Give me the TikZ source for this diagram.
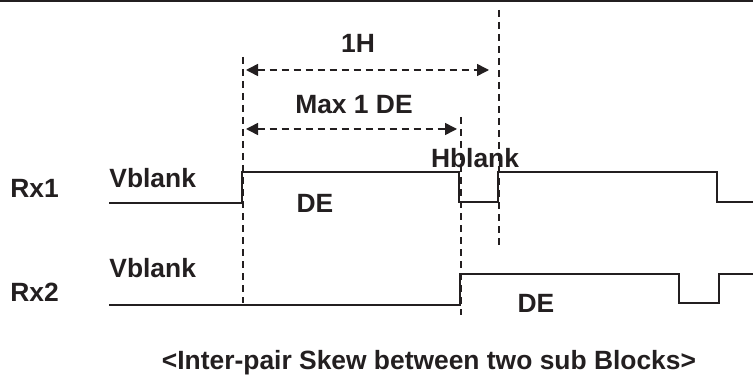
\documentclass[tikz,border=0pt]{standalone}
\usepackage{fontspec}
\setmainfont{Liberation Sans}
\usetikzlibrary{arrows.meta,positioning}
\definecolor{ink}{HTML}{231F20}

\begin{document}
\begin{tikzpicture}[
      x=0.5pt, y=-0.5pt,
      signal/.style={draw=ink, line width=1pt},
      guide/.style={draw=ink, line width=0.75pt, dash pattern=on 3.5pt off 2.5pt},
      span/.style={guide, {Triangle[length=6pt,width=6pt]}-{Triangle[length=6pt,width=6pt]}},
      lbl/.style={font=\fontsize{13.2}{15}\selectfont\bfseries, text=ink, inner sep=0pt},
    ]
    \useasboundingbox (0,0) rectangle (753,379);
    \draw[line width=1pt, ink] (0,1) -- (753,1);

    % guide lines
    \coordinate (startTop) at (243,57);
    \coordinate (startBot) at (243,303);
    \coordinate (skewTop) at (461,117);
    \coordinate (skewBot) at (461,315);
    \coordinate (lineTop) at (499,10);
    \coordinate (lineBot) at (499,248);
    \draw[guide] (startTop) -- (startBot);
    \draw[guide] (skewTop) -- (skewBot);
    \draw[guide] (lineTop) -- (lineBot);

    % spans
    \coordinate (hL) at (246,70);
    \coordinate (hR) at (489,70);
    \coordinate (mL) at (246,129);
    \coordinate (mR) at (457,129);
    \draw[span] (hL) -- (hR);
    \draw[span] (mL) -- (mR);
    \node[lbl] (oneH) at (358,43) {1H};
    \node[lbl] (maxDE) at (354,105) {Max 1 DE};

    % waveforms
    \draw[signal] (109,203) -- (242,203) -- (242,172) -- (459,172) -- (459,202)
      -- (498,202) -- (498,172) -- (717,172) -- (717,202) -- (753,202);
    \draw[signal] (109,305) -- (460,305) -- (460,274) -- (679,274) -- (679,303)
      -- (719,303) -- (719,274) -- (753,274);

    % labels
    \node[lbl, anchor=west] (rxA) at (10,188) {Rx1};
    \node[lbl, anchor=west] (rxB) at (10,292) {Rx2};
    \node[lbl, anchor=west] (vbA) at (109,178) {Vblank};
    \node[lbl, anchor=west] (vbB) at (109,268) {Vblank};
    \node[lbl] (deA) at (315,203) {DE};
    \node[lbl] (deB) at (536,303) {DE};
    \node[lbl] (hb) at (475,158) {Hblank};
    \node[lbl] (caption) at (429,363) {<Inter-pair Skew between two sub Blocks>};
  \end{tikzpicture}
\end{document}
